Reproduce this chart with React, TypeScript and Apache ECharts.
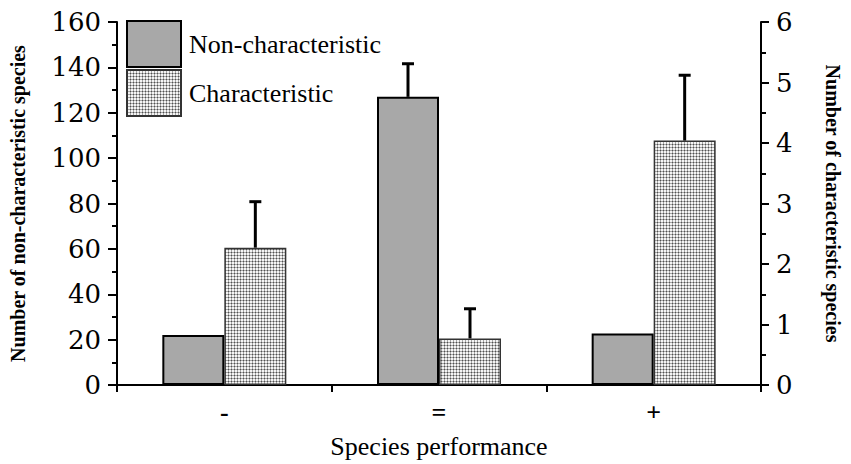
import React, { useEffect, useRef } from "react";
import * as echarts from "echarts";

const categories = ["-", "=", "+"];
const nonCharValues = [22, 127, 22.7];
const nonCharErrors: (number | null)[] = [null, 14.6, null];
const charValues = [2.27, 0.77, 4.04];
const charErrors: (number | null)[] = [0.76, 0.49, 1.08];
const leftTicks = { min: 0, max: 160, interval: 20 };
const rightTicks = { min: 0, max: 6, interval: 1 };

const BAR_W = 62;
const SERIF = "'Liberation Serif', 'Times New Roman', serif";
const DIGITS = "'DejaVu Serif', serif";

function makePattern() {
  const c = document.createElement("canvas");
  c.width = 3;
  c.height = 3;
  const ctx = c.getContext("2d")!;
  ctx.fillStyle = "#f4f4f4";
  ctx.fillRect(0, 0, 3, 3);
  ctx.fillStyle = "#a6a6a6";
  ctx.fillRect(0, 0, 3, 1);
  ctx.fillRect(0, 0, 1, 3);
  ctx.fillStyle = "#505050";
  ctx.fillRect(0, 0, 1, 1);
  return c;
}

function errorSeries(values: number[], errors: (number | null)[], yAxisIndex: number, offset: number) {
  const data = values
    .map((v, i) => (errors[i] == null ? null : [i, v, v + (errors[i] as number)]))
    .filter((d) => d !== null);
  return {
    type: "custom",
    name: "err" + yAxisIndex,
    yAxisIndex,
    z: 5,
    data,
    renderItem: (_params: any, api: any) => {
      const x = api.value(0);
      const low = api.coord([x, api.value(1)]);
      const high = api.coord([x, api.value(2)]);
      const cx = low[0] + offset;
      return {
        type: "group",
        children: [
          {
            type: "line",
            shape: { x1: cx, y1: low[1], x2: cx, y2: high[1] },
            style: { stroke: "#000", lineWidth: 3 },
          },
          {
            type: "line",
            shape: { x1: cx - 6, y1: high[1], x2: cx + 6, y2: high[1] },
            style: { stroke: "#000", lineWidth: 3 },
          },
        ],
      };
    },
  };
}

export default function App() {
  const ref = useRef<HTMLDivElement>(null);
  useEffect(() => {
    if (!ref.current) return;
    const chart = echarts.init(ref.current, null, { renderer: "svg" });
    const pattern = makePattern();
    chart.setOption({
      animation: false,
      backgroundColor: "#ffffff",
      grid: { left: 117, right: 82, top: 22, bottom: 76 },
      legend: {
        data: ["Non-characteristic", "Characteristic"],
        orient: "vertical",
        left: 126,
        top: 20,
        itemWidth: 54,
        itemHeight: 46,
        itemGap: 1,
        padding: 0,
        icon: "rect",
        selectedMode: false,
        textStyle: { fontFamily: SERIF, fontSize: 26, color: "#000", padding: [0, 0, 0, 3] },
      },
      xAxis: {
        type: "category",
        data: categories,
        name: "Species performance",
        nameLocation: "middle",
        nameGap: 48,
        nameTextStyle: { fontFamily: SERIF, fontSize: 26, color: "#000" },
        axisLine: { lineStyle: { color: "#000", width: 2 } },
        axisTick: { show: true, length: 7, lineStyle: { color: "#000", width: 2 } },
        axisLabel: { fontFamily: SERIF, fontSize: 26, color: "#000", margin: 14, fontWeight: "bold" },
      },
      yAxis: [
        {
          type: "value",
          position: "left",
          ...leftTicks,
          name: "Number of non-characteristic species",
          nameLocation: "middle",
          nameGap: 89,
          nameTextStyle: { fontFamily: SERIF, fontSize: 20, fontWeight: "bold", color: "#000" },
          axisLine: { show: true, lineStyle: { color: "#000", width: 2 } },
          axisTick: { show: true, length: 9, lineStyle: { color: "#000", width: 2 } },
          minorTick: { show: true, splitNumber: 2, length: 5, lineStyle: { color: "#000", width: 2 } },
          splitLine: { show: false },
          axisLabel: { fontFamily: DIGITS, fontSize: 26, color: "#000", margin: 16 },
        },
        {
          type: "value",
          position: "right",
          ...rightTicks,
          name: "Number of characteristic species",
          nameLocation: "middle",
          nameRotate: -90,
          nameGap: 62,
          nameTextStyle: { fontFamily: SERIF, fontSize: 20, fontWeight: "bold", color: "#000" },
          axisLine: { show: true, lineStyle: { color: "#000", width: 2 } },
          axisTick: { show: true, length: 8, lineStyle: { color: "#000", width: 2 } },
          minorTick: { show: true, splitNumber: 2, length: 5, lineStyle: { color: "#000", width: 2 } },
          splitLine: { show: false },
          axisLabel: { fontFamily: DIGITS, fontSize: 26, color: "#000", margin: 15 },
        },
      ],
      series: [
        {
          type: "bar",
          name: "Non-characteristic",
          yAxisIndex: 0,
          data: nonCharValues,
          barWidth: BAR_W,
          barGap: "0%",
          itemStyle: { color: "#a8a8a8", borderColor: "#000", borderWidth: 2 },
        },
        {
          type: "bar",
          name: "Characteristic",
          yAxisIndex: 1,
          data: charValues,
          barWidth: BAR_W,
          barGap: "0%",
          itemStyle: {
            color: { image: pattern, repeat: "repeat" },
            borderColor: "#333",
            borderWidth: 1.5,
          },
        },
        errorSeries(nonCharValues, nonCharErrors, 0, -BAR_W / 2),
        errorSeries(charValues, charErrors, 1, BAR_W / 2),
      ],
    });
    return () => chart.dispose();
  }, []);
  return <div ref={ref} style={{ width: 851, height: 464, position: "absolute", left: 0, top: 0 }} />;
}
